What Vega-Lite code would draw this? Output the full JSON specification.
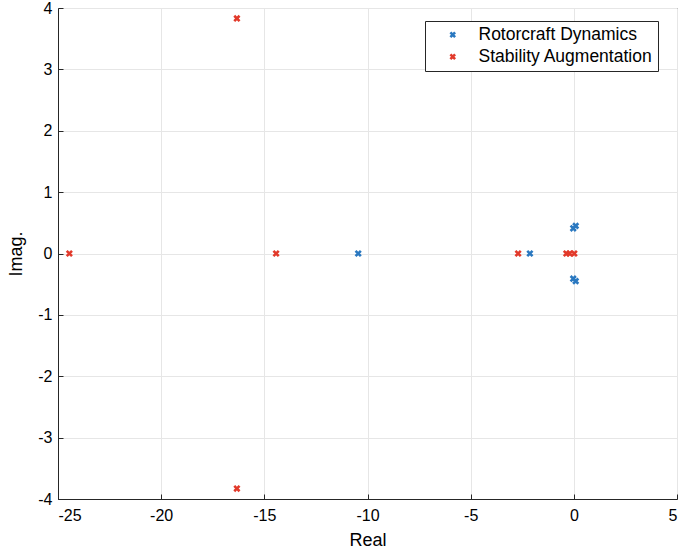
{
  "$schema": "https://vega.github.io/schema/vega-lite/v6.json",
  "width": 619,
  "height": 491,
  "autosize": {"type": "none"},
  "padding": {"left": 58, "top": 8, "right": 4, "bottom": 60},
  "config": {
    "font": "Liberation Sans",
    "view": {"stroke": "#262626", "strokeWidth": 1},
    "axis": {
      "labelFont": "Liberation Sans",
      "titleFont": "Liberation Sans",
      "labelFontSize": 16,
      "titleFontSize": 18,
      "titleFontWeight": "normal",
      "labelColor": "#000000",
      "titleColor": "#000000",
      "domainColor": "#262626",
      "tickColor": "#262626",
      "gridColor": "#e6e6e6",
      "tickSize": -5
    }
  },
  "data": {
    "values": [
      {"series": "Rotorcraft Dynamics", "re": -10.45, "im": 0},
      {"series": "Rotorcraft Dynamics", "re": -2.13, "im": 0},
      {"series": "Rotorcraft Dynamics", "re": -0.03, "im": 0.41},
      {"series": "Rotorcraft Dynamics", "re": 0.09, "im": 0.45},
      {"series": "Rotorcraft Dynamics", "re": -0.03, "im": -0.41},
      {"series": "Rotorcraft Dynamics", "re": 0.09, "im": -0.45},
      {"series": "Stability Augmentation", "re": -16.33, "im": 3.83},
      {"series": "Stability Augmentation", "re": -16.33, "im": -3.83},
      {"series": "Stability Augmentation", "re": -24.45, "im": 0},
      {"series": "Stability Augmentation", "re": -14.43, "im": 0},
      {"series": "Stability Augmentation", "re": -2.7, "im": 0},
      {"series": "Stability Augmentation", "re": -0.36, "im": 0},
      {"series": "Stability Augmentation", "re": -0.2, "im": 0},
      {"series": "Stability Augmentation", "re": 0.02, "im": 0}
    ]
  },
  "mark": {
    "type": "point",
    "shape": "M-1,-1L1,1M1,-1L-1,1",
    "filled": false,
    "size": 28,
    "strokeWidth": 2.6,
    "opacity": 1
  },
  "encoding": {
    "x": {
      "field": "re",
      "type": "quantitative",
      "title": "Real",
      "scale": {"domain": [-25, 5], "nice": false, "zero": false},
      "axis": {"values": [-25, -20, -15, -10, -5, 0, 5], "labelExpr": "replace(datum.label, '\u2212', '-')", "labelPadding": 13, "titlePadding": 8}
    },
    "y": {
      "field": "im",
      "type": "quantitative",
      "title": "Imag.",
      "scale": {"domain": [-4, 4], "nice": false, "zero": false},
      "axis": {"values": [-4, -3, -2, -1, 0, 1, 2, 3, 4], "labelExpr": "replace(datum.label, '\u2212', '-')", "labelPadding": 11, "titlePadding": 12}
    },
    "color": {
      "field": "series",
      "type": "nominal",
      "scale": {
        "domain": ["Rotorcraft Dynamics", "Stability Augmentation"],
        "range": ["#2a78c0", "#e23a2b"]
      },
      "legend": {
        "title": null,
        "orient": "none",
        "legendX": 367,
        "legendY": 13,
        "labelFontSize": 17.5,
        "labelLimit": 400,
        "labelFont": "Liberation Sans",
        "labelColor": "#000000",
        "strokeColor": "#262626",
        "fillColor": "#ffffff",
        "padding": 5,
        "rowPadding": 3,
        "symbolSize": 22,
        "symbolStrokeWidth": 2.6,
        "symbolOffset": 14,
        "labelOffset": 17,
        "symbolType": "M-1,-1L1,1M1,-1L-1,1",
        "symbolFillColor": "transparent"
      }
    }
  }
}
